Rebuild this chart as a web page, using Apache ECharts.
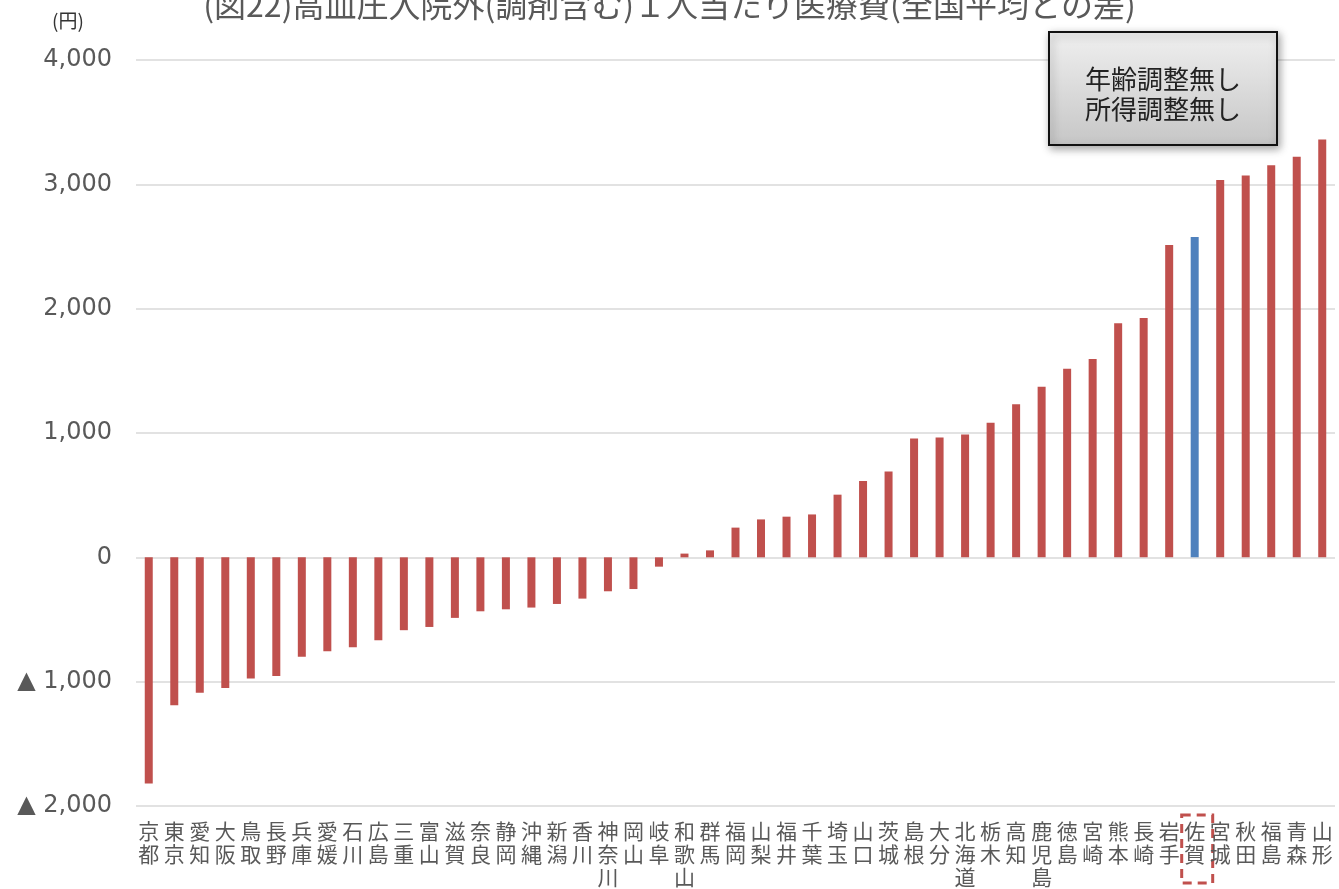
<!DOCTYPE html>
<html><head><meta charset="utf-8">
<script src="https://cdn.jsdelivr.net/npm/echarts@6/dist/echarts.min.js"></script>
<style>html,body{margin:0;padding:0;background:#fff}#c{width:1339px;height:889px}</style>
</head><body><div id="c"></div>
<script>
const titleText = '(図22)高血圧入院外(調剤含む)１人当たり医療費(全国平均との差)';
const unitText = '(円)';
const noteLines = ['年齢調整無し', '所得調整無し'];
const categories = ['京都','東京','愛知','大阪','鳥取','長野','兵庫','愛媛','石川','広島','三重','富山','滋賀','奈良','静岡','沖縄','新潟','香川','神奈川','岡山','岐阜','和歌山','群馬','福岡','山梨','福井','千葉','埼玉','山口','茨城','島根','大分','北海道','栃木','高知','鹿児島','徳島','宮崎','熊本','長崎','岩手','佐賀','宮城','秋田','福島','青森','山形'];
const values = [-1820,-1190,-1090,-1050,-975,-955,-800,-755,-723,-667,-586,-560,-487,-434,-418,-404,-375,-332,-273,-255,-75,30,56,239,305,327,345,504,614,691,956,964,988,1082,1232,1371,1516,1596,1883,1925,2512,2576,3034,3071,3154,3221,3361];
const highlightCategory = '佐賀';
const yTicks = {min: -2000, max: 4000, interval: 1000};

const RED = '#c0504d', BLUE = '#4f81bd', TXT = '#595959';
const chart = echarts.init(document.getElementById('c'));
const fmtNum = v => Math.abs(v).toLocaleString('en-US');
chart.setOption({
  animation: false,
  backgroundColor: '#fff',
  title: {
    text: titleText, left: 'center', top: -16,
    textStyle: {fontFamily: 'Noto Sans CJK JP', fontSize: 32, fontWeight: 'normal', color: TXT}
  },
  grid: {left: 136, right: 4, top: 60, bottom: 82, containLabel: false},
  xAxis: {
    type: 'category', data: categories,
    axisLine: {show: false}, axisTick: {show: false},
    axisLabel: {
      interval: 0, margin: 14, color: TXT, fontSize: 21, lineHeight: 23,
      fontFamily: 'Noto Sans CJK JP', verticalAlign: 'top',
      formatter: v => v.split('').join('\n')
    }
  },
  yAxis: {
    type: 'value', min: yTicks.min, max: yTicks.max, interval: yTicks.interval,
    axisLine: {show: false}, axisTick: {show: false},
    splitLine: {lineStyle: {color: '#d9d9d9', width: 1.5}},
    axisLabel: {
      margin: 24, color: TXT, fontSize: 24, fontFamily: 'DejaVu Sans',
      formatter: v => v < 0 ? '▲ ' + fmtNum(v) : fmtNum(v)
    }
  },
  series: [{
    type: 'bar', barWidth: 8,
    data: values.map((v, i) => ({
      value: v,
      itemStyle: {color: categories[i] === highlightCategory ? BLUE : RED}
    }))
  }]
});

function drawExtras() {
  const cx = chart.convertToPixel({xAxisIndex: 0}, highlightCategory);
  const yBottom = chart.convertToPixel({yAxisIndex: 0}, yTicks.min);
  chart.setOption({
    graphic: [
      {type: 'text', left: 52, top: 11,
       style: {text: unitText, fontSize: 19, fill: '#333', fontFamily: 'Noto Sans CJK JP'}},
      {type: 'group', left: 1048, top: 31, children: [
        {type: 'rect', shape: {x: 0, y: 0, width: 228, height: 113},
         style: {
           fill: new echarts.graphic.LinearGradient(0, 0, 0, 1, [
             {offset: 0, color: '#f0f0f0'}, {offset: 1, color: '#c6c6c6'}]),
           stroke: '#111', lineWidth: 2,
           shadowBlur: 8, shadowOffsetX: 2, shadowOffsetY: 3, shadowColor: 'rgba(0,0,0,0.35)'
         }},
        {type: 'text', x: 114, y: 62,
         style: {text: noteLines.join('\n'), fontSize: 26, lineHeight: 30, fill: '#222',
                 fontFamily: 'Noto Sans CJK JP', align: 'center', verticalAlign: 'middle'}}
      ]},
      {type: 'rect', shape: {x: cx - 13, y: yBottom + 9, width: 31, height: 68},
       style: {fill: 'none', stroke: RED, lineWidth: 3, lineDash: [9, 6]}}
    ]
  });
}
drawExtras();
</script>
</body></html>
